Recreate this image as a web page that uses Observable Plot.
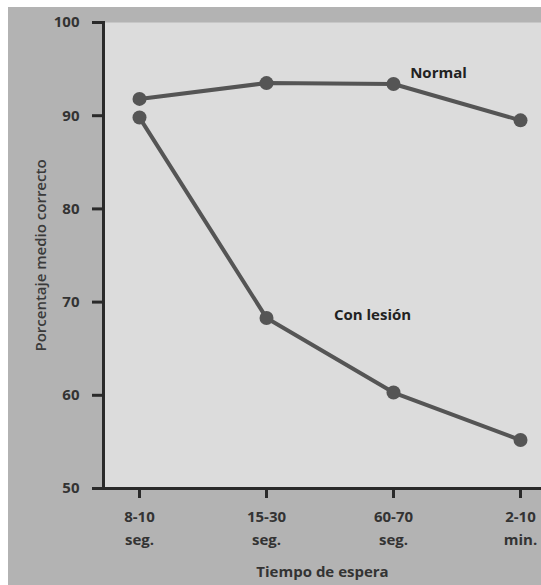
<!DOCTYPE html>
<html>
<head>
<meta charset="utf-8">
<script src="https://cdn.jsdelivr.net/npm/d3@7"></script>
<script src="https://cdn.jsdelivr.net/npm/@observablehq/plot@0.6"></script>
<style>
  html, body { margin: 0; padding: 0; background: #ffffff; }
  #bg { position: absolute; left: 8px; top: 7px; right: 0; bottom: 0; background: #b3b3b3; }
  #chart { position: absolute; left: 0; top: 0; }
  svg { font-family: "Open Sans", sans-serif; }
</style>
</head>
<body>
<div id="bg"></div>
<div id="chart"></div>
<script>
// Categories (waiting time)
const categories = ["8-10\nseg.", "15-30\nseg.", "60-70\nseg.", "2-10\nmin."];
// Series values (mean percent correct)
const normal = [91.8, 93.5, 93.4, 89.5];
const lesion = [89.8, 68.3, 60.3, 55.2];
const seriesNames = ["Normal", "Con lesión"];
const yTicks = [50, 60, 70, 80, 90, 100];

const rows = [
  ...categories.map((c, i) => ({cat: c, value: normal[i], series: seriesNames[0]})),
  ...categories.map((c, i) => ({cat: c, value: lesion[i], series: seriesNames[1]}))
];

const ink = "#555555";
const axisInk = "#2a2a2a";

const chart = Plot.plot({
  width: 541,
  height: 585,
  marginLeft: 103,
  marginTop: 22,
  marginBottom: 97,
  marginRight: 0,
  style: {background: "transparent", fontFamily: "Open Sans, sans-serif"},
  x: {type: "point", domain: categories, range: [138, 521], padding: 0},
  y: {domain: [50, 100], range: [488, 22]},
  marks: [
    Plot.frame({fill: "#dcdcdc", stroke: null}),
    Plot.frame({anchor: "left", stroke: axisInk, strokeWidth: 3}),
    Plot.ruleY([50], {stroke: axisInk, strokeWidth: 3, insetLeft: -11}),
    Plot.axisY({
      ticks: yTicks, tickSize: 11, tickPadding: 13, stroke: axisInk, strokeWidth: 3,
      fontSize: 15, fontWeight: 700, fill: "#333",
      label: null
    }),
    Plot.axisY({
      ticks: [], tickSize: 0,
      fontSize: 15, fontWeight: 600, fill: "#3a3a3a",
      label: "Porcentaje medio correcto", labelAnchor: "center", labelOffset: 68, labelArrow: "none"
    }),
    Plot.axisX({
      tickSize: 10, tickPadding: 8, stroke: axisInk, strokeWidth: 3,
      fontSize: 15, fontWeight: 700, fill: "#333", lineHeight: 1.5,
      label: "Tiempo de espera", labelAnchor: "center", labelOffset: 88
    }),
    Plot.line(rows, {x: "cat", y: "value", z: "series", stroke: ink, strokeWidth: 4}),
    Plot.dot(rows, {x: "cat", y: "value", r: 7, fill: ink, stroke: null}),
    Plot.text([seriesNames[0]], {x: () => categories[2], y: () => 94.6, text: (d) => d, dx: 45, fontSize: 15, fontWeight: 700, fill: "#222"}),
    Plot.text([seriesNames[1]], {x: () => categories[2], y: () => 68.6, text: (d) => d, dx: -21, fontSize: 15, fontWeight: 700, fill: "#222"})
  ]
});
document.getElementById("chart").appendChild(chart);
</script>
</body>
</html>
